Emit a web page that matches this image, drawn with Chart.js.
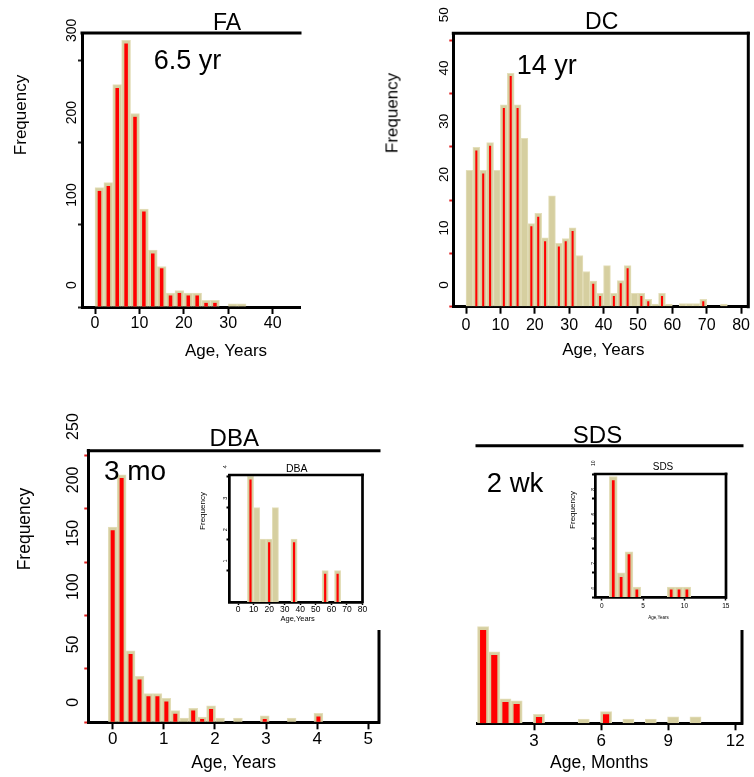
<!DOCTYPE html>
<html>
<head>
<meta charset="utf-8">
<script src="https://cdn.jsdelivr.net/npm/chart.js@4.4.1/dist/chart.umd.min.js"></script>
<style>
html,body{margin:0;padding:0;background:#fff;}
#wrap{position:relative;width:754px;height:777px;overflow:hidden;font-family:"Liberation Sans",Arial,Helvetica,sans-serif;color:#000;}
canvas{position:absolute;left:0;top:0;}
.t{position:absolute;white-space:nowrap;line-height:1;transform:translate(-50%,-50%);}
.v{transform:translate(-50%,-50%) rotate(-90deg);}
</style>
</head>
<body>
<div id="wrap">
<canvas id="fa" width="754" height="777"></canvas>
<canvas id="dc" width="754" height="777"></canvas>
<canvas id="dba" width="754" height="777"></canvas>
<canvas id="sds" width="754" height="777"></canvas>
<canvas id="dbaIn" width="754" height="777"></canvas>
<canvas id="sdsIn" width="754" height="777"></canvas>

<div class="t" style="left:227px;top:22px;font-size:23px">FA</div>
<div class="t" style="left:187.5px;top:60px;font-size:27px">6.5 yr</div>
<div class="t" style="left:226px;top:350px;font-size:17px">Age, Years</div>
<div class="t v" style="left:20px;top:115px;font-size:17px">Frequency</div>

<div class="t" style="left:601.7px;top:21px;font-size:23px">DC</div>
<div class="t" style="left:546.7px;top:65px;font-size:27px">14 yr</div>
<div class="t" style="left:603.3px;top:349px;font-size:17px">Age, Years</div>
<div class="t v" style="left:391.7px;top:113.3px;font-size:17px">Frequency</div>

<div class="t" style="left:234.3px;top:438.3px;font-size:24px">DBA</div>
<div class="t" style="left:135px;top:471px;font-size:28px">3 mo</div>
<div class="t" style="left:233.7px;top:763.3px;font-size:17.5px">Age, Years</div>
<div class="t v" style="left:25px;top:529px;font-size:17.5px">Frequency</div>

<div class="t" style="left:597.5px;top:435px;font-size:24px">SDS</div>
<div class="t" style="left:515px;top:482.5px;font-size:27.5px">2 wk</div>
<div class="t" style="left:599.2px;top:763.3px;font-size:17.5px">Age, Months</div>

<div class="t" style="left:296.7px;top:468.3px;font-size:10.5px">DBA</div>
<div class="t v" style="left:203.3px;top:510.7px;font-size:8px">Frequency</div>
<div class="t" style="left:297.7px;top:619.3px;font-size:7.5px">Age,Years</div>

<div class="t" style="left:663px;top:466.7px;font-size:10px">SDS</div>
<div class="t v" style="left:573.3px;top:510px;font-size:8px">Frequency</div>
<div class="t" style="left:658.5px;top:618.3px;font-size:4.5px">Age,Years</div>
</div>

<script>
// ---------- FA (age in years, 2-year bins) ----------
const faAge    = [1,3,5,7,9,11,13,15,17,19,21,23,25,27,31,33];
const faAll    = [145,151,270,324,235,119,69,49,17,20,17,17,8,8,4,4];
const faRed    = [141,147,266,320,231,116,65,47,14,17,14,14,5,5,null,null];
const faXTicks = [0,10,20,30,40];
const faYTicks = [0,100,200,300];

// ---------- DC (age in years, 2-year bins) ----------
const dcAge    = [1,3,5,7,9,11,13,15,17,19,21,23,25,27,29,31,33,35,37,39,41,43,45,47,49,51,53,55,57,59,63,65,67,69,75];
const dcAll    = [25.6,29.9,25.6,30.8,25.6,37.9,43.8,37.9,31.6,15.6,17.5,12.9,20.8,11.9,12.8,14.8,9.6,6.6,4.8,2.5,7.7,2.5,4.9,7.7,2.5,2.5,1.4,0.5,2.5,0.5,0.6,0.6,0.6,1.4,0.5];
const dcRed    = [null,29.3,25.0,30.2,null,37.3,43.3,37.3,null,15.1,16.9,12.3,null,11.3,12.3,14.2,null,null,4.3,2.0,null,2.0,4.4,7.2,null,2.0,1.0,null,2.0,null,null,null,null,1.0,null];
const dcXTicks = [0,10,20,30,40,50,60,70,80];
const dcYTicks = [0,10,20,30,40,50];

// ---------- DBA (age in years) ----------
const dbaAge    = [0,0.175,0.35,0.525,0.7,0.875,1.05,1.225,1.4,1.575,1.75,1.925,2.1,2.45,2.975,3.5,4.025];
const dbaAll    = [183,232,67,43,27,27,22.5,11,4,13,5,15.5,4,4,6,4,8.5];
const dbaRed    = [180,229,64,40,24.5,24.5,19.5,8,null,11,3,12.5,null,null,3,null,5.5];
const dbaXTicks = [0,1,2,3,4,5];
const dbaYTicks = [0,50,100,150,200,250];

// ---------- SDS (age in months) ----------
const sdsAge    = [0.72,1.22,1.72,2.22,3.22,5.22,6.22,7.22,8.22,9.22,10.22];
const sdsAll    = [90.5,67,23,21,8.5,4,11,4,4,6,6];
const sdsRed    = [87.5,64,20,18,6,null,8.5,null,null,null,null];
const sdsXTicks = [3,6,9,12];

// ---------- DBA inset ----------
const dbaInAge    = [8,12,16,20,24,36,56,64];
const dbaInAll    = [4,3,2,2,3,2,1,1];
const dbaInRed    = [3.9,null,null,1.9,null,1.9,0.9,0.9];
const dbaInXTicks = [0,10,20,30,40,50,60,70,80];
const dbaInYTicks = [1,2,3,4];

// ---------- SDS inset ----------
const sdsInAge    = [1.4,2.35,3.3,4.25,8.4,9.35,10.3];
const sdsInAll    = [9.8,2,3.7,0.85,0.85,0.85,0.85];
const sdsInRed    = [9.5,1.65,3.5,0.65,0.65,0.65,0.65];
const sdsInXTicks = [0,5,10,15];
const sdsInYTicks = [0,2,4,6,8,10];

const FONT = '"Liberation Sans", Arial, Helvetica, sans-serif';
const TAN = '#d6cfa0', TAN_EDGE = '#e4dfbb', RED = '#ff0000';
const W = 754, H = 777;

function zeroPad(s){ s.paddingLeft = 0; s.paddingRight = 0; s.paddingTop = 0; s.paddingBottom = 0; }

function panel(id, o) {
  const pad = { left: o.area.l, top: o.area.t, right: W - o.area.r, bottom: H - o.area.b - o.xH };
  const frame = {
    id: 'frame_' + id,
    afterDraw(chart) {
      const a = chart.chartArea, c = chart.ctx, fw = o.frameW;
      c.save(); c.strokeStyle = '#000'; c.lineWidth = fw;
      if (o.top) { c.beginPath(); c.moveTo(a.left - fw/2, a.top); c.lineTo(a.right + fw/2, a.top); c.stroke(); }
      if (o.right != null) {
        const y0 = o.right === 'full' ? a.top - fw/2 : chart.scales.y.getPixelForValue(o.right);
        c.beginPath(); c.moveTo(a.right, y0); c.lineTo(a.right, a.bottom + fw/2); c.stroke();
      }
      c.restore();
    }
  };
  return new Chart(document.getElementById(id), {
    type: 'bar',
    data: { datasets: [
      { data: o.x.map((v,i)=>({x:v, y:o.red[i]})), backgroundColor: RED, borderWidth: 0,
        grouped: false, categoryPercentage: 1, barPercentage: o.redPct, order: 0 },
      { data: o.x.map((v,i)=>({x:v, y:o.all[i]})), backgroundColor: TAN, borderColor: TAN_EDGE, borderWidth: 1,
        grouped: false, categoryPercentage: 1, barPercentage: 1, order: 1 }
    ]},
    options: {
      responsive: false, animation: false, devicePixelRatio: 1, events: [],
      layout: { padding: pad },
      plugins: { legend: {display:false}, tooltip: {enabled:false}, title: {display:false} },
      scales: {
        x: {
          type: 'linear', min: o.xMin, max: o.xMax, offset: false,
          afterBuildTicks: s => { s.ticks = o.xTicks.map(v => ({value: v})); },
          afterFit: s => { s.height = o.xH; zeroPad(s); },
          grid: { display: true, offset: false, drawOnChartArea: false, drawTicks: true,
                  tickLength: o.xTickLen, tickWidth: o.xTickW, tickColor: '#000' },
          border: { display: true, color: '#000', width: o.frameW },
          ticks: { autoSkip: false, minRotation: 0, maxRotation: 0, padding: o.xPad, color: '#000',
                   font: { family: FONT, size: o.xFont }, callback: v => String(v) }
        },
        y: {
          type: 'linear', min: 0, max: o.yMax, display: o.yShow !== false,
          afterBuildTicks: s => { s.ticks = o.yTicks.map(v => ({value: v})); },
          afterFit: s => { s.width = 0; zeroPad(s); },
          grid: { display: true, drawOnChartArea: false, drawTicks: true,
                  tickLength: o.yTickLen, tickWidth: 2, tickColor: o.yTickColor },
          border: { display: true, color: '#000', width: o.frameW },
          ticks: { autoSkip: false, minRotation: 90, maxRotation: 90, mirror: true, crossAlign: 'near',
                   labelOffset: o.yLabelOffset, padding: o.yLabelX - o.area.l, color: '#000',
                   font: { family: FONT, size: o.yFont }, callback: v => String(v) }
        }
      }
    },
    plugins: [frame]
  });
}

panel('fa', {
  x: faAge, all: faAll, red: faRed, redPct: 0.4,
  area: {l: 82, r: 300, t: 33, b: 307}, yLabelX: 72, xH: 40,
  xMin: -2.93, xMax: 46.15, xTicks: faXTicks, xFont: 16, xPad: 0, xTickLen: 7, xTickW: 2,
  yMax: 332.8, yTicks: faYTicks, yFont: 14, yLabelOffset: -18, yTickLen: 4, yTickColor: '#222',
  frameW: 3, top: true, right: null
});
panel('dc', {
  x: dcAge, all: dcAll, red: dcRed, redPct: 0.3,
  area: {l: 453.3, r: 748.3, t: 33.3, b: 306.7}, yLabelX: 444, xH: 40,
  xMin: -3.7, xMax: 82.1, xTicks: dcXTicks, xFont: 16, xPad: 2, xTickLen: 7, xTickW: 2,
  yMax: 51.3, yTicks: dcYTicks, yFont: 13.5, yLabelOffset: -18, yTickLen: 4, yTickColor: '#e02020',
  frameW: 3, top: true, right: 'full'
});
panel('dba', {
  x: dbaAge, all: dbaAll, red: dbaRed, redPct: 0.45,
  area: {l: 88.3, r: 379, t: 450.7, b: 722.3}, yLabelX: 74, xH: 40,
  xMin: -0.477, xMax: 5.21, xTicks: dbaXTicks, xFont: 17, xPad: 0, xTickLen: 7, xTickW: 2,
  yMax: 254.5, yTicks: dbaYTicks, yFont: 16, yLabelOffset: -15.6, yTickLen: 4, yTickColor: '#e02020',
  frameW: 3, top: true, right: 86.5
});
panel('sds', {
  x: sdsAge, all: sdsAll, red: sdsRed, redPct: 0.55,
  area: {l: 477, r: 742, t: 445.7, b: 723.3}, yShow: false, yLabelX: 477, xH: 40,
  xMin: 0.447, xMax: 12.3, xTicks: sdsXTicks, xFont: 17, xPad: 1, xTickLen: 7, xTickW: 2,
  yMax: 260, yTicks: [0], yFont: 14, yLabelOffset: 0, yTickLen: 0, yTickColor: '#000',
  frameW: 3, top: true, right: 87.4
});
panel('dbaIn', {
  x: dbaInAge, all: dbaInAll, red: dbaInRed, redPct: 0.35,
  area: {l: 229.5, r: 362.5, t: 475, b: 602}, yLabelX: 225, xH: 20,
  xMin: -5.5, xMax: 80, xTicks: dbaInXTicks, xFont: 8.5, xPad: 0, xTickLen: 3, xTickW: 1.5,
  yMax: 4.04, yTicks: dbaInYTicks, yFont: 5.5, yLabelOffset: -8, yTickLen: 3, yTickColor: '#000',
  frameW: 2.7, top: true, right: 'full'
});
panel('sdsIn', {
  x: sdsInAge, all: sdsInAll, red: sdsInRed, redPct: 0.35,
  area: {l: 595, r: 726, t: 474, b: 597.5}, yLabelX: 594, xH: 20,
  xMin: -0.81, xMax: 15.03, xTicks: sdsInXTicks, xFont: 6.5, xPad: 2, xTickLen: 3, xTickW: 1.5,
  yMax: 10, yTicks: sdsInYTicks, yFont: 5, yLabelOffset: -8, yTickLen: 3, yTickColor: '#000',
  frameW: 2.7, top: true, right: 'full'
});
</script>
</body>
</html>
